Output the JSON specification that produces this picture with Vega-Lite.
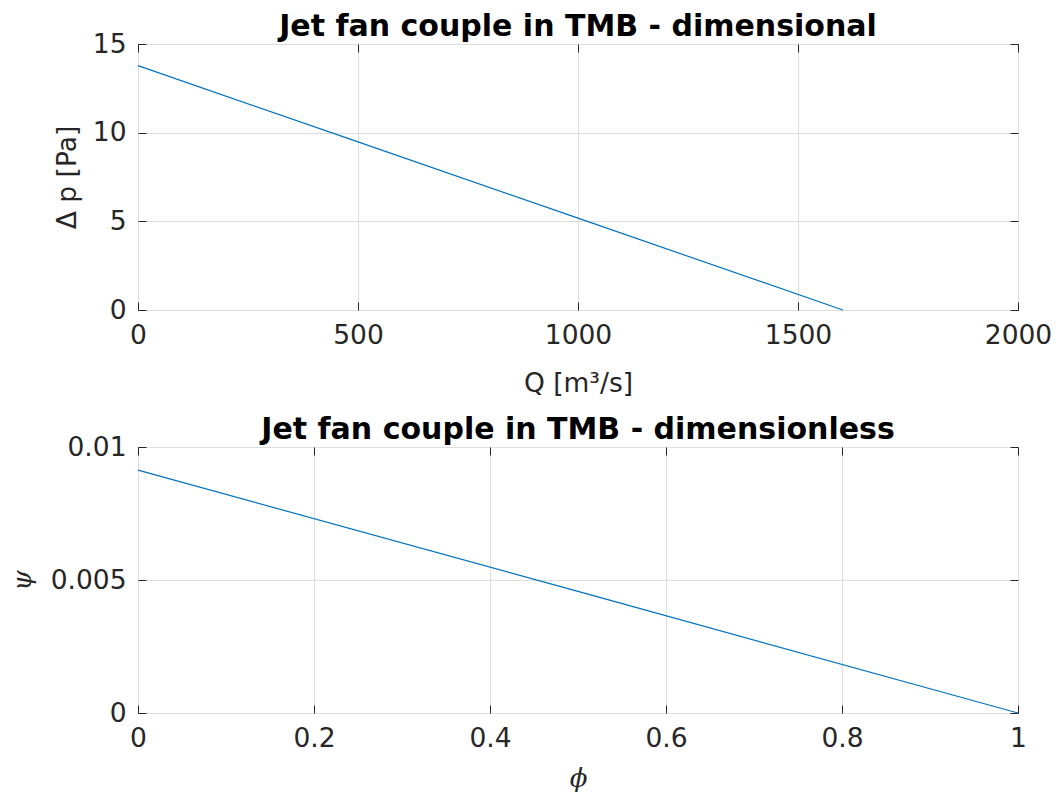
{
  "$schema": "https://vega.github.io/schema/vega-lite/v6.json",
  "background": "white",
  "padding": {"left": 8, "top": 11, "right": 5, "bottom": 2},
  "spacing": 16,
  "config": {
    "font": "DejaVu Sans",
    "view": {"stroke": "#262626", "strokeWidth": 1},
    "axis": {
      "domain": false,
      "tickColor": "#262626",
      "tickSize": -8,
      "tickWidth": 1,
      "labelFont": "DejaVu Sans",
      "labelFontSize": 26.5,
      "labelColor": "#262626",
      "labelPadding": 20,
      "labelFlush": false,
      "labelOverlap": false,
      "titleFont": "DejaVu Sans",
      "titleFontSize": 26.5,
      "titleFontWeight": "normal",
      "titleColor": "#262626",
      "gridColor": "#dedede",
      "gridWidth": 1
    },
    "title": {"font": "DejaVu Sans", "fontSize": 30, "fontWeight": "bold", "color": "#000000", "offset": -11}
  },
  "vconcat": [
    {
      "width": 880,
      "height": 266,
      "title": {"text": "Jet fan couple in TMB - dimensional"},
      "data": {"values": [
        {"Q": 0, "dp": 13.78},
        {"Q": 500, "dp": 9.48},
        {"Q": 1000, "dp": 5.18},
        {"Q": 1602, "dp": 0}
      ]},
      "layer": [
        {
          "mark": {"type": "line", "color": "#0072BD", "strokeWidth": 1.2},
          "encoding": {
            "x": {"field": "Q", "type": "quantitative", "scale": {"domain": [0, 2000], "nice": false},
              "axis": {"values": [0, 500, 1000, 1500, 2000], "format": "d", "title": "Q [m³/s]", "titlePadding": 22, "grid": true}},
            "y": {"field": "dp", "type": "quantitative", "scale": {"domain": [0, 15], "nice": false},
              "axis": {"values": [0, 5, 10, 15], "format": "d", "title": "Δ p [Pa]", "titlePadding": 11, "grid": true}}
          }
        },
        {
          "mark": {"type": "line", "opacity": 0},
          "encoding": {
            "x": {"field": "Q", "type": "quantitative",
              "axis": {"orient": "top", "values": [0, 500, 1000, 1500, 2000], "labels": false, "labelPadding": 0, "minExtent": 0, "maxExtent": 0, "title": null, "grid": false}},
            "y": {"field": "dp", "type": "quantitative",
              "axis": {"orient": "right", "values": [0, 5, 10, 15], "labels": false, "labelPadding": 0, "minExtent": 0, "maxExtent": 0, "title": null, "grid": false}}
          }
        }
      ],
      "resolve": {"axis": {"x": "independent", "y": "independent"}}
    },
    {
      "width": 880,
      "height": 266,
      "title": {"text": "Jet fan couple in TMB - dimensionless"},
      "data": {"values": [
        {"phi": 0, "psi": 0.00913},
        {"phi": 0.5, "psi": 0.00457},
        {"phi": 1, "psi": 0}
      ]},
      "layer": [
        {
          "mark": {"type": "line", "color": "#0072BD", "strokeWidth": 1.2},
          "encoding": {
            "x": {"field": "phi", "type": "quantitative", "scale": {"domain": [0, 1], "nice": false},
              "axis": {"values": [0, 0.2, 0.4, 0.6, 0.8, 1], "format": "~g", "title": "ϕ", "titleFont": "DejaVu Serif", "titleFontStyle": "italic", "titleFontSize": 26, "titlePadding": 14, "grid": true}},
            "y": {"field": "psi", "type": "quantitative", "scale": {"domain": [0, 0.01], "nice": false},
              "axis": {"values": [0, 0.005, 0.01], "format": "~g", "title": "ψ", "titleFont": "DejaVu Serif", "titleFontStyle": "italic", "titleFontSize": 26, "titlePadding": 15, "grid": true}}
          }
        },
        {
          "mark": {"type": "line", "opacity": 0},
          "encoding": {
            "x": {"field": "phi", "type": "quantitative",
              "axis": {"orient": "top", "values": [0, 0.2, 0.4, 0.6, 0.8, 1], "labels": false, "labelPadding": 0, "minExtent": 0, "maxExtent": 0, "title": null, "grid": false}},
            "y": {"field": "psi", "type": "quantitative",
              "axis": {"orient": "right", "values": [0, 0.005, 0.01], "labels": false, "labelPadding": 0, "minExtent": 0, "maxExtent": 0, "title": null, "grid": false}}
          }
        }
      ],
      "resolve": {"axis": {"x": "independent", "y": "independent"}}
    }
  ]
}
